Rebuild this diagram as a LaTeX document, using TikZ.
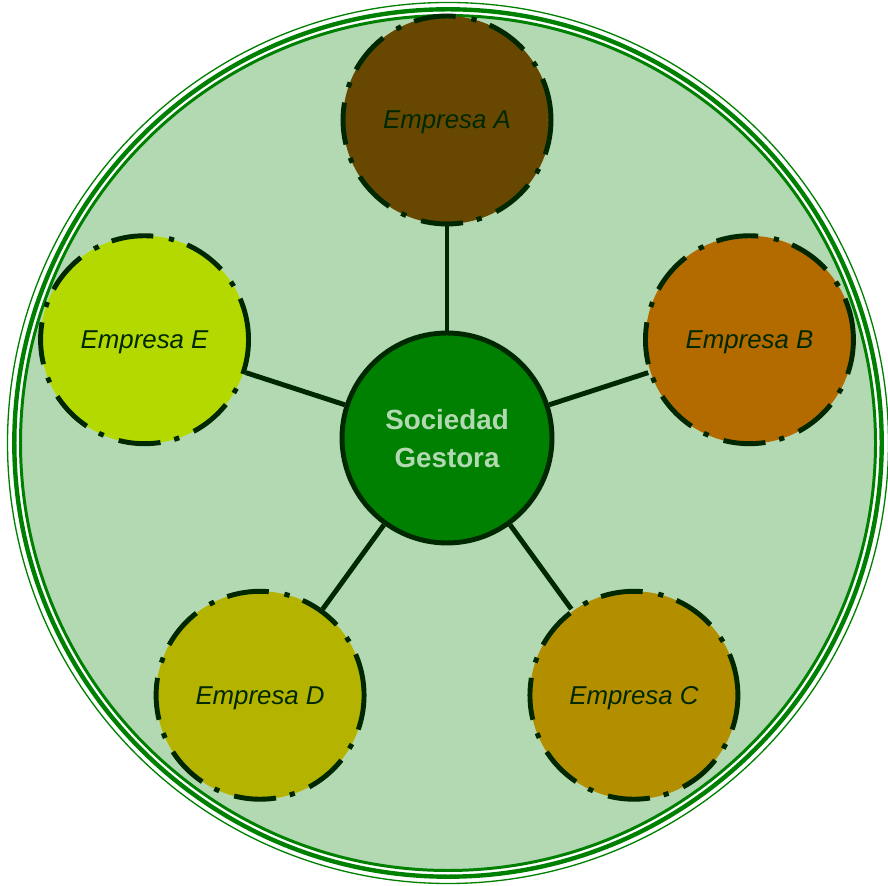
\documentclass[tikz,border=0pt]{standalone}
\usepackage{fontspec}
\setmainfont{Liberation Sans}
\usetikzlibrary{calc}

\definecolor{fondo}{RGB}{179,217,179}
\definecolor{verde}{RGB}{0,128,0}
\definecolor{oscuro}{RGB}{0,40,0}
\definecolor{empA}{RGB}{104,72,0}
\definecolor{empB}{RGB}{179,107,0}
\definecolor{empC}{RGB}{179,143,0}
\definecolor{empD}{RGB}{179,179,0}
\definecolor{empE}{RGB}{179,217,0}

\begin{document}
\begin{tikzpicture}[
    x=0.02cm, y=0.02cm,
    central/.style={circle, draw=oscuro, line width=2.8pt, fill=verde, minimum size=4.2cm, inner sep=0pt, align=center, text depth=-3pt, text=fondo, font=\fontsize{15.8}{21.6}\selectfont\bfseries},
    empresa/.style={circle, draw=oscuro, line width=2.8pt, dash pattern=on 24pt off 8pt on 3pt off 9pt, minimum size=4.16cm, inner sep=0pt, text depth=0pt, text=oscuro, font=\fontsize{14.7}{17}\selectfont\itshape},
    enlace/.style={draw=oscuro, line width=2.8pt}
]
\useasboundingbox (0,0) rectangle (888,885);

% Outer ring with triple border
\fill[fondo] (448,442) circle (427);
\draw[verde, line width=1.7pt] (448,442) circle (427.5);
\draw[verde, line width=2.5pt] (448,442) circle (433.7);
\draw[verde, line width=0.75pt] (448,442) circle (440.5);

% Central node
\node[central] (soc) at (447,447) {Sociedad\\Gestora};

% Companies around the centre
\foreach \ang/\lab/\col in {90/A/empA, 18/B/empB, -54/C/empC, -126/D/empD, 162/E/empE}{
    \node[empresa, fill=\col] (emp\lab) at ($(soc)+(\ang:318)$) {Empresa \lab};
    \draw[enlace] (soc) -- (emp\lab);
}

\end{tikzpicture}
\end{document}
